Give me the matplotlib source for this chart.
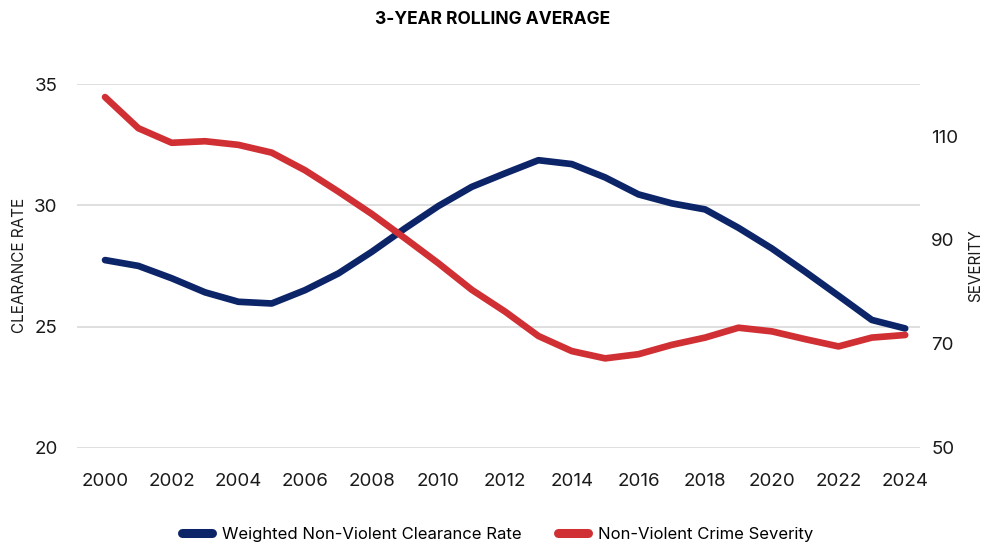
import matplotlib.pyplot as plt
from matplotlib.lines import Line2D

plt.rcParams['font.family'] = ['Inter', 'DejaVu Sans']

years = list(range(2000, 2025))
clearance = [27.74, 27.50, 26.99, 26.41, 26.02, 25.95, 26.50, 27.19, 28.08, 29.05,
             29.97, 30.76, 31.32, 31.86, 31.70, 31.15, 30.45, 30.08, 29.83, 29.07,
             28.22, 27.26, 26.27, 25.27, 24.92]
severity = [117.5, 111.5, 108.7, 109.0, 108.3, 106.8, 103.4, 99.3, 95.0, 90.3,
            85.5, 80.4, 76.2, 71.5, 68.6, 67.2, 68.0, 69.8, 71.2, 73.1,
            72.4, 70.9, 69.5, 71.2, 71.7]
left_ticks = [20, 25, 30, 35]
right_ticks = [50, 70, 90, 110]

blue = '#0c2468'
red = '#d03034'

fig = plt.figure(figsize=(9.85, 5.46), dpi=100)
ax = fig.add_axes([0.0782, 0.18, 0.856, 0.666])
ax2 = ax.twinx()

ax.plot(years, clearance, color=blue, lw=4.8, solid_capstyle='round', solid_joinstyle='round', zorder=3)
ax2.plot(years, severity, color=red, lw=4.8, solid_capstyle='round', solid_joinstyle='round', zorder=3)

ax.set_xlim(1999.16, 2024.45)
ax.set_ylim(20, 35)
ax2.set_ylim(50, 120)
ax.set_yticks(left_ticks)
ax2.set_yticks(right_ticks)
ax.set_xticks(years[::2])
ax.grid(axis='y', color='#d9d9d9', lw=1.2)
ax.set_axisbelow(True)

for a in (ax, ax2):
    for s in a.spines.values():
        s.set_visible(False)
    a.tick_params(length=0, labelsize=13.5, colors='#1a1a1a')
ax.tick_params(axis='y', pad=14)
ax.tick_params(axis='x', pad=18)
ax2.tick_params(axis='y', pad=8)

ax.set_ylabel('CLEARANCE RATE', fontsize=11, color='#1a1a1a', labelpad=5)
ax2.set_ylabel('SEVERITY', fontsize=11, color='#1a1a1a', labelpad=7)
fig.suptitle('3-YEAR ROLLING AVERAGE', fontsize=12.5, fontweight='bold', y=0.98)

handles = [Line2D([], [], color=blue, lw=6.5, solid_capstyle='round'),
           Line2D([], [], color=red, lw=6.5, solid_capstyle='round')]
fig.legend(handles, ['Weighted Non-Violent Clearance Rate', 'Non-Violent Crime Severity'],
           loc='lower center', bbox_to_anchor=(0.505, -0.02), ncol=2, frameon=False,
           fontsize=12, handlelength=1.8, columnspacing=2.2, handletextpad=0.6)

fig.savefig('out.png', dpi=100)
